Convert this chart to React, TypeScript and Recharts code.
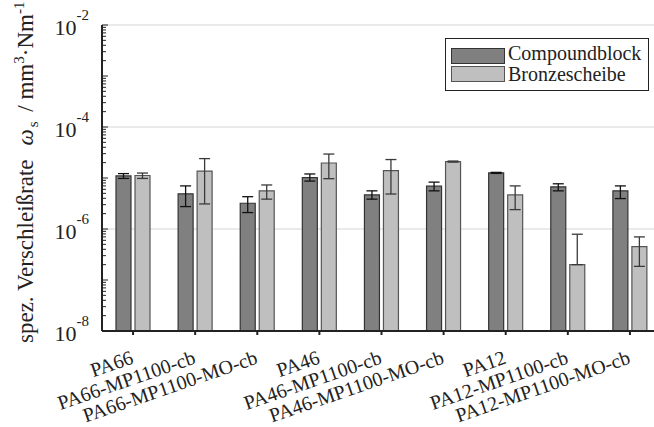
import React from "react";
import {
  BarChart,
  Bar,
  XAxis,
  YAxis,
  CartesianGrid,
  Legend,
  ErrorBar,
} from "recharts";

const categories = [
  "PA66",
  "PA66-MP1100-cb",
  "PA66-MP1100-MO-cb",
  "PA46",
  "PA46-MP1100-cb",
  "PA46-MP1100-MO-cb",
  "PA12",
  "PA12-MP1100-cb",
  "PA12-MP1100-MO-cb",
];

// Compoundblock (dark bars)
const compound = [1.1e-5, 4.9e-6, 3.2e-6, 1.02e-5, 4.65e-6, 6.9e-6, 1.26e-5, 6.7e-6, 5.6e-6];
const compoundUpper = [1.22e-5, 7.0e-6, 4.3e-6, 1.2e-5, 5.6e-6, 8.3e-6, 1.29e-5, 7.7e-6, 7.0e-6];
const compoundLower = [0.98e-5, 2.75e-6, 2.1e-6, 8.7e-6, 3.85e-6, 5.6e-6, 1.23e-5, 5.6e-6, 3.95e-6];

// Bronzescheibe (light bars)
const bronze = [1.12e-5, 1.37e-5, 5.6e-6, 1.97e-5, 1.4e-5, 2.1e-5, 4.65e-6, 2.0e-7, 4.5e-7];
const bronzeUpper = [1.25e-5, 2.4e-5, 7.3e-6, 2.95e-5, 2.3e-5, 2.15e-5, 7.0e-6, 7.9e-7, 7.0e-7];
const bronzeLower = [0.98e-5, 3.1e-6, 3.85e-6, 9.7e-6, 4.85e-6, 2.05e-5, 2.4e-6, 2.0e-7, 1.85e-7];

const seriesNames = ["Compoundblock", "Bronzescheibe"];
const seriesFills = ["#808080", "#bfbfbf"];
const seriesStrokes = ["#333333", "#555555"];

const decadeLabels = [-8, -6, -4, -2];
const gridValues = [1e-6, 1e-4, 1e-2];

const FONT = "'Liberation Serif', 'Times New Roman', serif";

const data = categories.map((name, i) => ({
  name,
  compound: compound[i],
  compoundErr: [compound[i] - compoundLower[i], compoundUpper[i] - compound[i]],
  bronze: bronze[i],
  bronzeErr: [bronze[i] - bronzeLower[i], bronzeUpper[i] - bronze[i]],
}));

// log ticks: decades plus minor ticks 2..9
const yTicks: number[] = [];
for (let e = -8; e < -2; e++) {
  for (let m = 1; m <= 9; m++) yTicks.push(Number((m * Math.pow(10, e)).toPrecision(3)));
}
yTicks.push(1e-2);

function YTick(props: any) {
  const { x, y, payload } = props;
  const v = Number(payload.value);
  const lg = Math.log10(v);
  const isDecade = Math.abs(lg - Math.round(lg)) < 1e-6;
  const exp = Math.round(lg);
  const showLabel = isDecade && decadeLabels.includes(exp);
  return (
    <g>
      <line x1={x} x2={x + (isDecade ? 6 : 4)} y1={y} y2={y} stroke="#222" strokeWidth={1} />
      {showLabel && (
        <text x={x - 13} y={y} textAnchor="end" fontFamily={FONT} fill="#222">
          <tspan fontSize={22} dy={10}>10</tspan>
          <tspan fontSize={15} dy={-15}>{exp}</tspan>
        </text>
      )}
    </g>
  );
}

function XTick(props: any) {
  const { x, y, payload } = props;
  return (
    <g transform={`translate(${x + 1.5},${y + 28}) rotate(-19)`}>
      <text x={0} y={0} textAnchor="end" fontFamily={FONT} fontSize={20} fill="#222">
        {payload.value}
      </text>
    </g>
  );
}

function YLabel() {
  return (
    <text
      transform="translate(33,343) rotate(-90)"
      textAnchor="start"
      fontFamily={FONT}
      fontSize={23}
      fill="#222"
    >
      spez. Verschleißrate
      <tspan dx={14} fontStyle="italic">ω</tspan>
      <tspan fontSize={15} dx={2} dy={5}>s</tspan>
      <tspan dx={4} dy={-5}> / mm</tspan>
      <tspan fontSize={15} dy={-9}>3</tspan>
      <tspan dy={9}>·Nm</tspan>
      <tspan fontSize={15} dy={-9}>-1</tspan>
    </text>
  );
}

function LegendBox() {
  return (
    <svg width={204} height={53} style={{ display: "block" }}>
      <rect x={0.5} y={0.5} width={203} height={52} fill="#fff" stroke="#222" strokeWidth={1} />
      {seriesNames.map((n, i) => (
        <g key={n}>
          <rect
            x={6.5}
            y={10.5 + i * 18}
            width={53}
            height={15}
            fill={seriesFills[i]}
            stroke={seriesStrokes[i]}
            strokeWidth={1}
          />
          <text x={63} y={22 + i * 20.5} fontFamily={FONT} fontSize={20} fill="#222">
            {n}
          </text>
        </g>
      ))}
    </svg>
  );
}

export default function App() {
  return (
    <div
      style={{
        position: "absolute",
        left: 0,
        top: 0,
        width: 654,
        height: 427,
        overflow: "hidden",
        background: "#fff",
      }}
    >
      <BarChart
        width={680}
        height={427}
        data={data}
        margin={{ top: 25, right: 19, left: 0, bottom: 36 }}
        barSize={15}
        barGap={4}
      >
        <CartesianGrid
          vertical={false}
          horizontalValues={gridValues}
          stroke="#e3e3e3"
          strokeWidth={1.5}
        />
        <XAxis
          dataKey="name"
          interval={0}
          height={60}
          tickSize={4}
          tickMargin={0}
          axisLine={{ stroke: "#222", strokeWidth: 2 }}
          tickLine={{ stroke: "#222", strokeWidth: 2 }}
          tick={<XTick />}
        />
        <YAxis
          scale="log"
          type="number"
          domain={[1e-8, 1e-2]}
          allowDataOverflow
          ticks={yTicks}
          interval={0}
          width={102}
          tickSize={0}
          tickMargin={0}
          tickLine={false}
          axisLine={{ stroke: "#222", strokeWidth: 2 }}
          tick={<YTick />}
          label={<YLabel />}
        />
        <Legend
          layout="vertical"
          align="center"
          verticalAlign="middle"
          wrapperStyle={{ left: 445, top: 38, width: 204 }}
          content={<LegendBox />}
        />
        <Bar
          dataKey="compound"
          name={seriesNames[0]}
          fill={seriesFills[0]}
          stroke={seriesStrokes[0]}
          strokeWidth={1.2}
          isAnimationActive={false}
        >
          <ErrorBar dataKey="compoundErr" width={5.5} stroke="#111" strokeWidth={1.3} isAnimationActive={false} />
        </Bar>
        <Bar
          dataKey="bronze"
          name={seriesNames[1]}
          fill={seriesFills[1]}
          stroke={seriesStrokes[1]}
          strokeWidth={1.2}
          isAnimationActive={false}
        >
          <ErrorBar dataKey="bronzeErr" width={5.5} stroke="#3a3a3a" strokeWidth={1.3} isAnimationActive={false} />
        </Bar>
      </BarChart>
    </div>
  );
}
